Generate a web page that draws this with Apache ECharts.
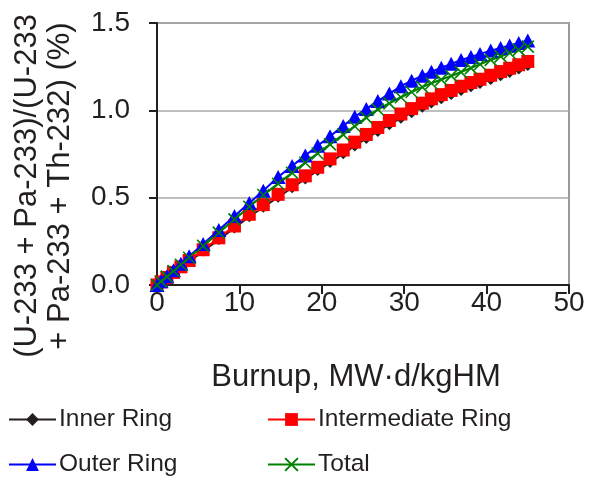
<!DOCTYPE html>
<html>
<head>
<meta charset="utf-8">
<script src="https://cdn.jsdelivr.net/npm/echarts@6/dist/echarts.min.js"></script>
<style>
html,body{margin:0;padding:0;background:#fff;}
#c{width:611px;height:481px;}
</style>
</head>
<body>
<div id="c"></div>
<script>
const burnup = [0, 0.5, 1.2, 2.0, 2.9, 3.9, 5.6, 7.5, 9.4, 11.2, 12.9, 14.7, 16.4, 18.0, 19.5, 21.0, 22.6, 24.0, 25.4, 26.8, 28.2, 29.6, 30.9, 32.2, 33.3, 34.5, 35.7, 36.9, 38.1, 39.2, 40.5, 41.7, 42.8, 43.9, 45.0];
const innerRing = [0, 0.017, 0.041, 0.069, 0.1, 0.134, 0.194, 0.26, 0.326, 0.391, 0.445, 0.503, 0.557, 0.607, 0.655, 0.702, 0.752, 0.796, 0.839, 0.879, 0.918, 0.955, 0.986, 1.017, 1.042, 1.066, 1.09, 1.114, 1.135, 1.154, 1.177, 1.198, 1.217, 1.237, 1.256];
const intermediateRing = [0, 0.018, 0.043, 0.072, 0.104, 0.14, 0.202, 0.27, 0.338, 0.405, 0.46, 0.519, 0.574, 0.625, 0.674, 0.722, 0.773, 0.818, 0.862, 0.902, 0.942, 0.979, 1.01, 1.041, 1.066, 1.09, 1.114, 1.138, 1.159, 1.178, 1.201, 1.222, 1.241, 1.261, 1.28];
const outerRing = [0, 0.021, 0.05, 0.084, 0.122, 0.164, 0.235, 0.315, 0.395, 0.47, 0.54, 0.618, 0.682, 0.741, 0.797, 0.852, 0.911, 0.963, 1.008, 1.053, 1.096, 1.138, 1.17, 1.198, 1.221, 1.244, 1.266, 1.288, 1.306, 1.323, 1.342, 1.357, 1.371, 1.386, 1.40];
const total = [0, 0.02, 0.048, 0.08, 0.116, 0.156, 0.224, 0.30, 0.376, 0.448, 0.515, 0.58, 0.642, 0.70, 0.753, 0.805, 0.861, 0.909, 0.958, 1.005, 1.04, 1.075, 1.105, 1.133, 1.155, 1.176, 1.197, 1.219, 1.242, 1.264, 1.289, 1.309, 1.328, 1.346, 1.365];
const xTicks = [0, 10, 20, 30, 40, 50];
const yTicks = [0, 0.5, 1.0, 1.5];
const seriesNames = ['Inner Ring', 'Intermediate Ring', 'Outer Ring', 'Total'];

const FONT = '"Liberation Sans", Arial, sans-serif';
const TXT = '#231f20';
const pairs = ys => burnup.map((x, i) => [x, ys[i]]);

const chart = echarts.init(document.getElementById('c'), null, {renderer: 'canvas'});
const crossPath = 'path://M0,0L10,10M10,0L0,10';
const legendCommon = {
  orient: 'vertical', top: 400, height: 80, itemWidth: 47, itemHeight: 16, itemGap: 16,
  textStyle: {color: TXT, fontFamily: FONT, fontSize: 24.5, lineHeight: 29, padding: [0, 0, 0, -2]}
};

chart.setOption({
  animation: false,
  backgroundColor: '#fff',
  grid: {left: 157, right: 42, top: 23, bottom: 196, show: true, borderColor: '#999', borderWidth: 2, containLabel: false},
  xAxis: {
    type: 'value', min: xTicks[0], max: xTicks[xTicks.length - 1], interval: 10,
    axisLine: {show: true, onZero: false, lineStyle: {color: TXT, width: 2}},
    axisTick: {show: true, inside: false, length: 9, lineStyle: {color: TXT, width: 2}},
    axisLabel: {color: TXT, fontFamily: FONT, fontSize: 28, margin: 4},
    splitLine: {show: false},
    name: 'Burnup, MW\u00b7d/kgHM', nameLocation: 'middle', nameGap: 77,
    nameTextStyle: {color: TXT, fontFamily: FONT, fontSize: 31, padding: [0, 14, 0, 0]}
  },
  yAxis: {
    type: 'value', min: yTicks[0], max: yTicks[yTicks.length - 1], interval: 0.5,
    axisLine: {show: true, onZero: false, lineStyle: {color: TXT, width: 2}},
    axisTick: {show: true, inside: false, length: 8, lineStyle: {color: TXT, width: 2}},
    axisLabel: {color: TXT, fontFamily: FONT, fontSize: 28, margin: 27, formatter: v => v.toFixed(1)},
    splitLine: {show: true, lineStyle: {color: '#aaa', width: 1.5}}
  },
  graphic: [{
    type: 'text', x: 44, y: 186, rotation: Math.PI / 2,
    style: {text: '(U-233 + Pa-233)/(U-233\n+ Pa-233 + Th-232) (%)', font: '31px ' + FONT, fill: TXT,
      textAlign: 'center', textVerticalAlign: 'middle', lineHeight: 33}
  }],
  legend: [
    Object.assign({data: [seriesNames[0], seriesNames[2]], left: 3}, legendCommon),
    Object.assign({data: [seriesNames[1], seriesNames[3]], left: 262}, legendCommon)
  ],
  series: [
    {name: seriesNames[0], type: 'line', data: pairs(innerRing), symbol: 'diamond', symbolSize: 11,
      lineStyle: {color: '#231f20', width: 2}, itemStyle: {color: '#231f20'}},
    {name: seriesNames[1], type: 'line', data: pairs(intermediateRing), symbol: 'rect', symbolSize: 13,
      lineStyle: {color: '#ff0000', width: 2}, itemStyle: {color: '#ff0000'}},
    {name: seriesNames[2], type: 'line', data: pairs(outerRing), symbol: 'triangle', symbolSize: [15, 14],
      lineStyle: {color: '#0000ff', width: 2}, itemStyle: {color: '#0000ff'}},
    {name: seriesNames[3], type: 'line', data: pairs(total), symbol: crossPath, symbolSize: 12,
      lineStyle: {color: '#008000', width: 2.2}, itemStyle: {color: 'rgba(0,0,0,0)', borderColor: '#008000', borderWidth: 1.6}}
  ]
});
</script>
</body>
</html>
